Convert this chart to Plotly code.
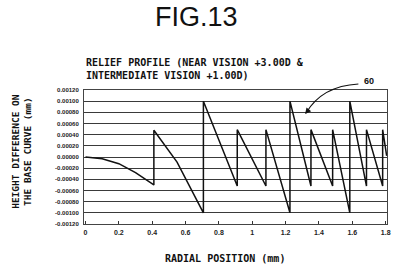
import plotly.graph_objects as go

# Relief profile data (radial position in mm, height difference in mm)
radial_pos = [0, 0.1, 0.2, 0.3, 0.41, 0.41, 0.549, 0.707, 0.707, 0.91, 0.91,
              1.082, 1.082, 1.226, 1.226, 1.352, 1.352, 1.482, 1.482, 1.585,
              1.585, 1.685, 1.685, 1.782, 1.782, 1.806]
height_diff = [0, -0.00003, -0.00012, -0.00028, -0.00050, 0.00048, -0.00009,
               -0.00100, 0.00100, -0.00052, 0.00049, -0.00052, 0.00049,
               -0.00100, 0.00100, -0.00052, 0.00049, -0.00052, 0.00049,
               -0.00100, 0.00100, -0.00052, 0.00049, -0.00052, 0.00049, 0.00002]

x_tick_vals = [0, 0.2, 0.4, 0.6, 0.8, 1.0, 1.2, 1.4, 1.6, 1.8]
x_tick_text = ["0", "0.2", "0.4", "0.6", "0.8", "1", "1.2", "1.4", "1.6", "1.8"]
y_tick_vals = [0.0012, 0.0010, 0.0008, 0.0006, 0.0004, 0.0002, 0.0,
               -0.0002, -0.0004, -0.0006, -0.0008, -0.0010, -0.0012]
y_tick_text = ["0.00120", "0.00100", "0.00080", "0.00060", "0.00040", "0.00020",
               "0.00000", "-0.00020", "-0.00040", "-0.00060", "-0.00080",
               "-0.00100", "-0.00120"]

fig_label = "FIG.13"
chart_title = "RELIEF PROFILE (NEAR VISION +3.00D &<br>INTERMEDIATE VISION +1.00D)"
x_title = "RADIAL POSITION (mm)"
y_title = "HEIGHT DIFFERENCE ON<br>THE BASE CURVE (mm)"
ref_label = "60"

W, H = 400, 267
L, R, T, B = 84, 9, 90, 43
pw, ph = W - L - R, H - T - B

def px(xp):
    return (xp - L) / pw

def py(yp):
    return (H - B - yp) / ph

mono = "DejaVu Sans Mono"
fig = go.Figure()
fig.add_trace(go.Scatter(x=radial_pos, y=height_diff, mode="lines",
                         line=dict(color="#111111", width=1.5),
                         showlegend=False, hoverinfo="skip"))

fig.update_layout(
    width=W, height=H,
    margin=dict(l=L, r=R, t=T, b=B, pad=0),
    paper_bgcolor="white", plot_bgcolor="white",
    showlegend=False,
    xaxis=dict(range=[-0.009, 1.808], tickvals=x_tick_vals, ticktext=x_tick_text,
               ticks="inside", ticklen=3, tickcolor="#333", showgrid=False,
               zeroline=False, showline=True, linecolor="#444", linewidth=1,
               mirror=True, ticklabelstandoff=2,
               tickfont=dict(family="Liberation Sans", size=7, color="#222", weight="bold")),
    yaxis=dict(range=[-0.0012, 0.0012], tickvals=y_tick_vals, ticktext=y_tick_text,
               ticks="", showgrid=True, gridcolor="#3a3a3a", gridwidth=1.2,
               zeroline=False, showline=True, linecolor="#444", linewidth=1,
               mirror=True, ticklabelstandoff=3,
               tickfont=dict(family="Liberation Sans", size=6, color="#222", weight="bold")),
    font=dict(family=mono, color="#111"),
)

annotations = [
    dict(text=fig_label, x=px(198), y=py(17), xref="paper", yref="paper",
         showarrow=False, xanchor="center", yanchor="middle",
         font=dict(family="Liberation Sans", size=27, color="#111")),
    dict(text=chart_title, x=px(84), y=py(55), xref="paper", yref="paper",
         showarrow=False, xanchor="left", yanchor="top", align="left",
         font=dict(family=mono, size=10, color="#111", weight="bold")),
    dict(text=x_title, x=px(227), y=py(258), xref="paper", yref="paper",
         showarrow=False, xanchor="center", yanchor="middle",
         font=dict(family=mono, size=10, color="#111", weight="bold")),
    dict(text=y_title, x=px(20), y=py(151), xref="paper", yref="paper",
         showarrow=False, xanchor="center", yanchor="middle", textangle=-90,
         font=dict(family=mono, size=9.5, color="#111", weight="bold")),
    dict(text=ref_label, x=px(373), y=py(81), xref="paper", yref="paper",
         showarrow=False, xanchor="center", yanchor="middle",
         font=dict(family="Liberation Sans", size=9, color="#111", weight="bold")),
    # arrowhead
    dict(text="", x=px(308), y=py(114), xref="paper", yref="paper",
         ax=4, ay=-5, axref="pixel", ayref="pixel",
         showarrow=True, arrowhead=2, arrowsize=1, arrowwidth=1.2, arrowcolor="#111"),
]
fig.update_layout(annotations=annotations)

fig.add_shape(type="path", xref="paper", yref="paper",
              path=f"M {px(362)} {py(84)} Q {px(325)} {py(86)} {px(309)} {py(113)}",
              line=dict(color="#111", width=1.2))

fig.write_html("out.html")
